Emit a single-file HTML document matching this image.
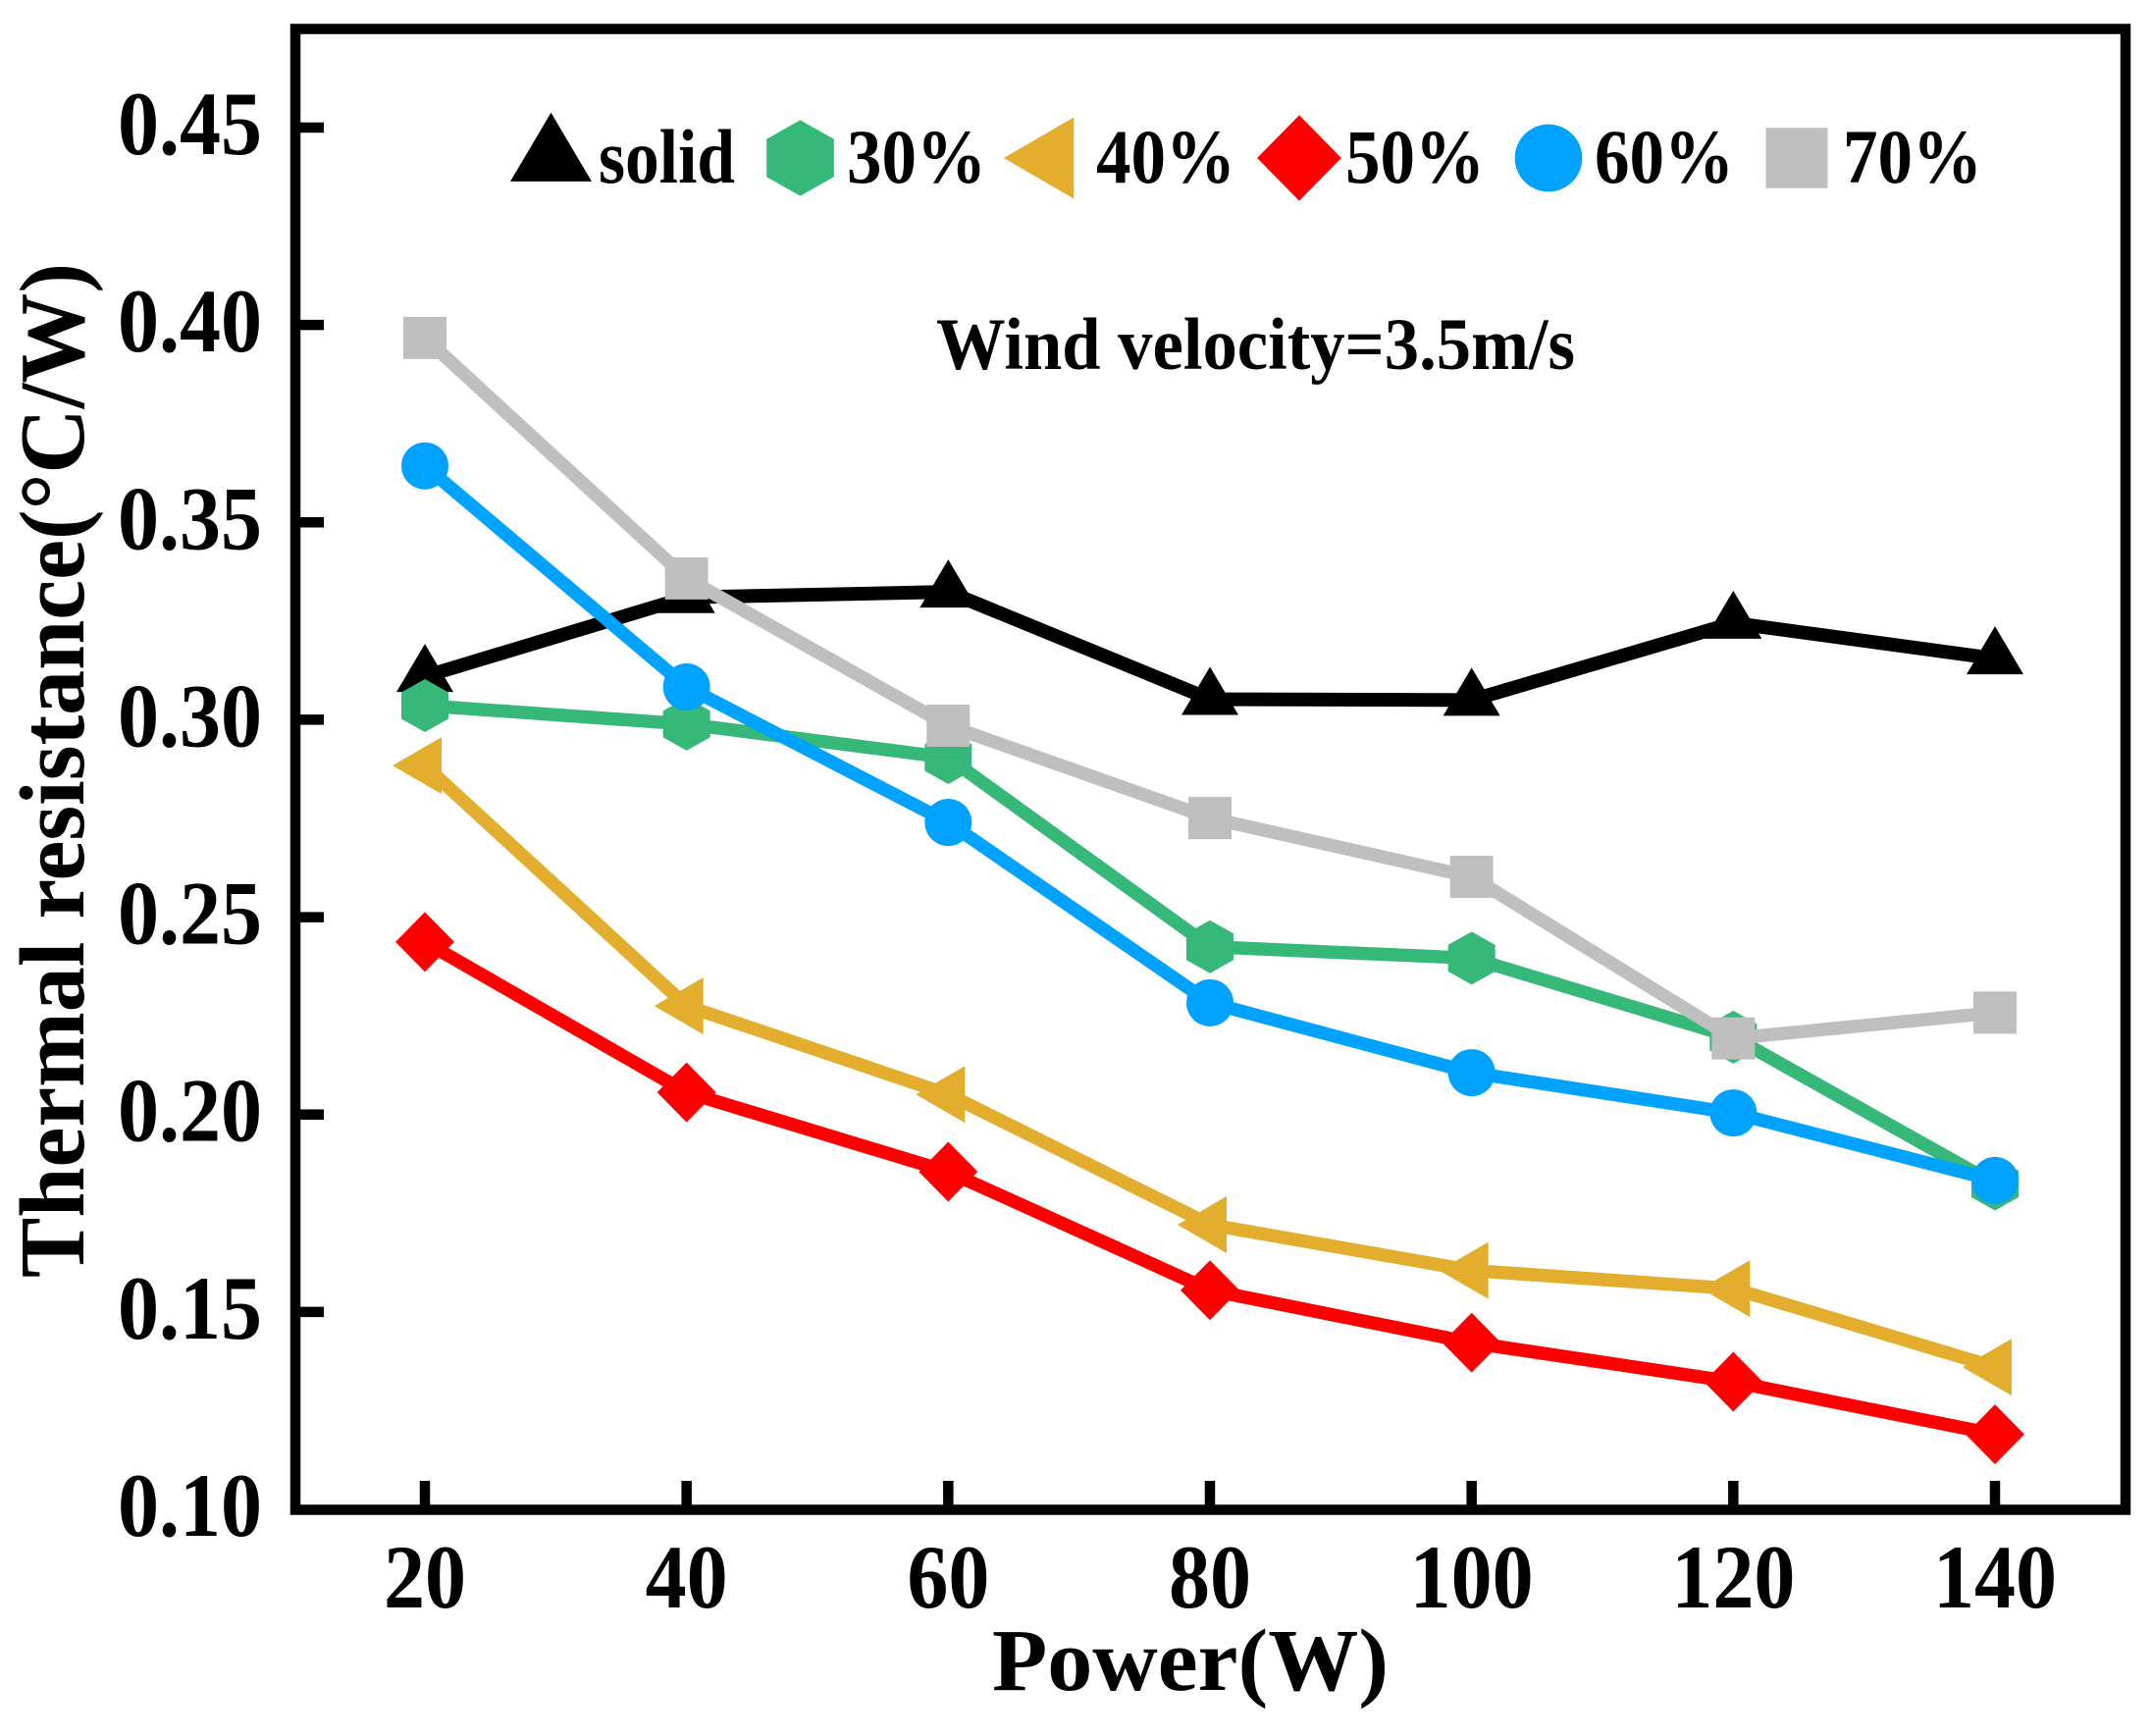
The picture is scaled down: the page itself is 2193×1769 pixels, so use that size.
<!DOCTYPE html>
<html lang="en">
<head>
<meta charset="utf-8">
<title>Thermal resistance vs power</title>
<style>
html,body{margin:0;padding:0;background:#fff;}
svg{display:block;}
text{font-family:"Liberation Serif","Times New Roman",serif;font-weight:bold;fill:#000;}
</style>
</head>
<body>
<svg id="chart" xmlns="http://www.w3.org/2000/svg" width="2193" height="1769" viewBox="0 0 2193 1769">
<rect x="0" y="0" width="2193" height="1769" fill="#fff"/>
<g id="series-layer"></g>
<rect x="301" y="29.5" width="1865" height="1509" fill="none" stroke="#000" stroke-width="10.5"/>
<g id="tick-layer"></g>
<text transform="translate(85,1302) rotate(-90)" font-size="94" textLength="1034" lengthAdjust="spacingAndGlyphs">Thermal resistance(°C/W)</text>
<text x="1011" y="1722" font-size="90" textLength="404" lengthAdjust="spacingAndGlyphs">Power(W)</text>
<text x="954" y="376" font-size="75" textLength="651" lengthAdjust="spacingAndGlyphs">Wind velocity=3.5m/s</text>
<g id="legend-layer"></g>
</svg>
<script>
const powers = [20, 40, 60, 80, 100, 120, 140];
const xTickLabels = ["20", "40", "60", "80", "100", "120", "140"];
const yTicks = [0.10, 0.15, 0.20, 0.25, 0.30, 0.35, 0.40, 0.45];
const solid = [0.311, 0.331, 0.3324, 0.3052, 0.305, 0.3245, 0.3155];
const pct30 = [0.3036, 0.2989, 0.2904, 0.2425, 0.2396, 0.2196, 0.1824];
const pct40 = [0.2884, 0.2275, 0.2051, 0.1721, 0.1605, 0.1559, 0.136];
const pct50 = [0.2437, 0.2056, 0.1855, 0.1555, 0.1422, 0.1323, 0.119];
const pct60 = [0.3643, 0.3083, 0.274, 0.2283, 0.2106, 0.2004, 0.1833];
const pct70 = [0.3967, 0.3358, 0.2985, 0.2751, 0.2602, 0.2193, 0.2258];

const NS = "http://www.w3.org/2000/svg";
function xScale(p) { return 433 + (p - 20) * (2033 - 433) / 120; }
function yScale(v) { return 1538 - (v - 0.10) * (1538 - 130) / 0.35; }

function make(tag, attrs, parent) {
  const el = document.createElementNS(NS, tag);
  for (const k in attrs) el.setAttribute(k, attrs[k]);
  parent.appendChild(el);
  return el;
}

function marker(kind, cx, cy, s, color, parent) {
  if (kind === "circle") {
    return make("circle", { cx: cx, cy: cy, r: 24 * s, fill: color }, parent);
  }
  let pts;
  if (kind === "triangle") pts = [[0, -33], [29, 16], [-29, 16]];
  if (kind === "hexagon") pts = [[0, -27], [24, -13.5], [24, 13.5], [0, 27], [-24, 13.5], [-24, -13.5]];
  if (kind === "left") pts = [[-33, 0], [17, -29], [17, 29]];
  if (kind === "diamond") pts = [[0, -30.5], [30, 0], [0, 30.5], [-30, 0]];
  if (kind === "square") pts = [[-22, -21.5], [22, -21.5], [22, 21.5], [-22, 21.5]];
  const str = pts.map(function (p) { return (cx + p[0] * s) + "," + (cy + p[1] * s); }).join(" ");
  return make("polygon", { points: str, fill: color }, parent);
}

const seriesLayer = document.getElementById("series-layer");
function drawSeries(name, values, color, kind, width) {
  const g = make("g", {}, seriesLayer);
  
  
  const line = make("polyline", {
    points: values.map(function (v, i) { return xScale(powers[i]) + "," + yScale(v); }).join(" "),
    fill: "none", stroke: color, "stroke-width": width, "stroke-linejoin": "miter"
  }, g);
  
  
  values.forEach(function (v, i) {
    const m = marker(kind, xScale(powers[i]), yScale(v), 1, color, g);
    
    
  });
}
drawSeries("solid", solid, "#000000", "triangle", 14);
drawSeries("30", pct30, "#36B878", "hexagon", 13.5);
drawSeries("40", pct40, "#E3AE2E", "left", 13.5);
drawSeries("50", pct50, "#FF0000", "diamond", 13.5);
drawSeries("60", pct60, "#00A2FF", "circle", 13.5);
drawSeries("70", pct70, "#BFBFBF", "square", 13.5);

const tickLayer = document.getElementById("tick-layer");
yTicks.forEach(function (v) {
  const y = yScale(v);
  if (v > 0.1) {
    const t = make("line", { x1: 301, x2: 330, y1: y, y2: y, stroke: "#000", "stroke-width": 10.5 }, tickLayer);
    
    
  }
  const lab = make("text", { x: 267, y: y + 27, "font-size": 92, "text-anchor": "end", textLength: 147, lengthAdjust: "spacingAndGlyphs" }, tickLayer);
  lab.textContent = v.toFixed(2);
  
  
});
powers.forEach(function (p, i) {
  const x = xScale(p);
  const t = make("line", { x1: x, x2: x, y1: 1509, y2: 1538, stroke: "#000", "stroke-width": 10.5 }, tickLayer);
  
  
  const s = xTickLabels[i];
  const lab = make("text", { x: x, y: 1638, "font-size": 92, "text-anchor": "middle", textLength: s.length * 42, lengthAdjust: "spacingAndGlyphs" }, tickLayer);
  lab.textContent = s;
  
  
});

const legendLabels = ["solid", "30%", "40%", "50%", "60%", "70%"];
const legendLengths = [139, 142, 142, 142, 142, 142];
const legendKinds = ["triangle", "hexagon", "left", "diamond", "circle", "square"];
const legendColors = ["#000000", "#36B878", "#E3AE2E", "#FF0000", "#00A2FF", "#BFBFBF"];
const legendMarkerX = [561.5, 815.5, 1070, 1324, 1578, 1831];
const legendTextX = [610, 863, 1117, 1371, 1625, 1878];
const legendLayer = document.getElementById("legend-layer");
legendLabels.forEach(function (label, i) {
  const g = make("g", {}, legendLayer);
  
  
  const cy = i === 0 ? 162 : 161;
  const m = marker(legendKinds[i], legendMarkerX[i], cy, 1.43, legendColors[i], g);
  
  
  const t = make("text", { x: legendTextX[i], y: 186, "font-size": 78, textLength: legendLengths[i], lengthAdjust: "spacingAndGlyphs" }, g);
  t.textContent = label;
  
  
});
</script>
</body>
</html>
